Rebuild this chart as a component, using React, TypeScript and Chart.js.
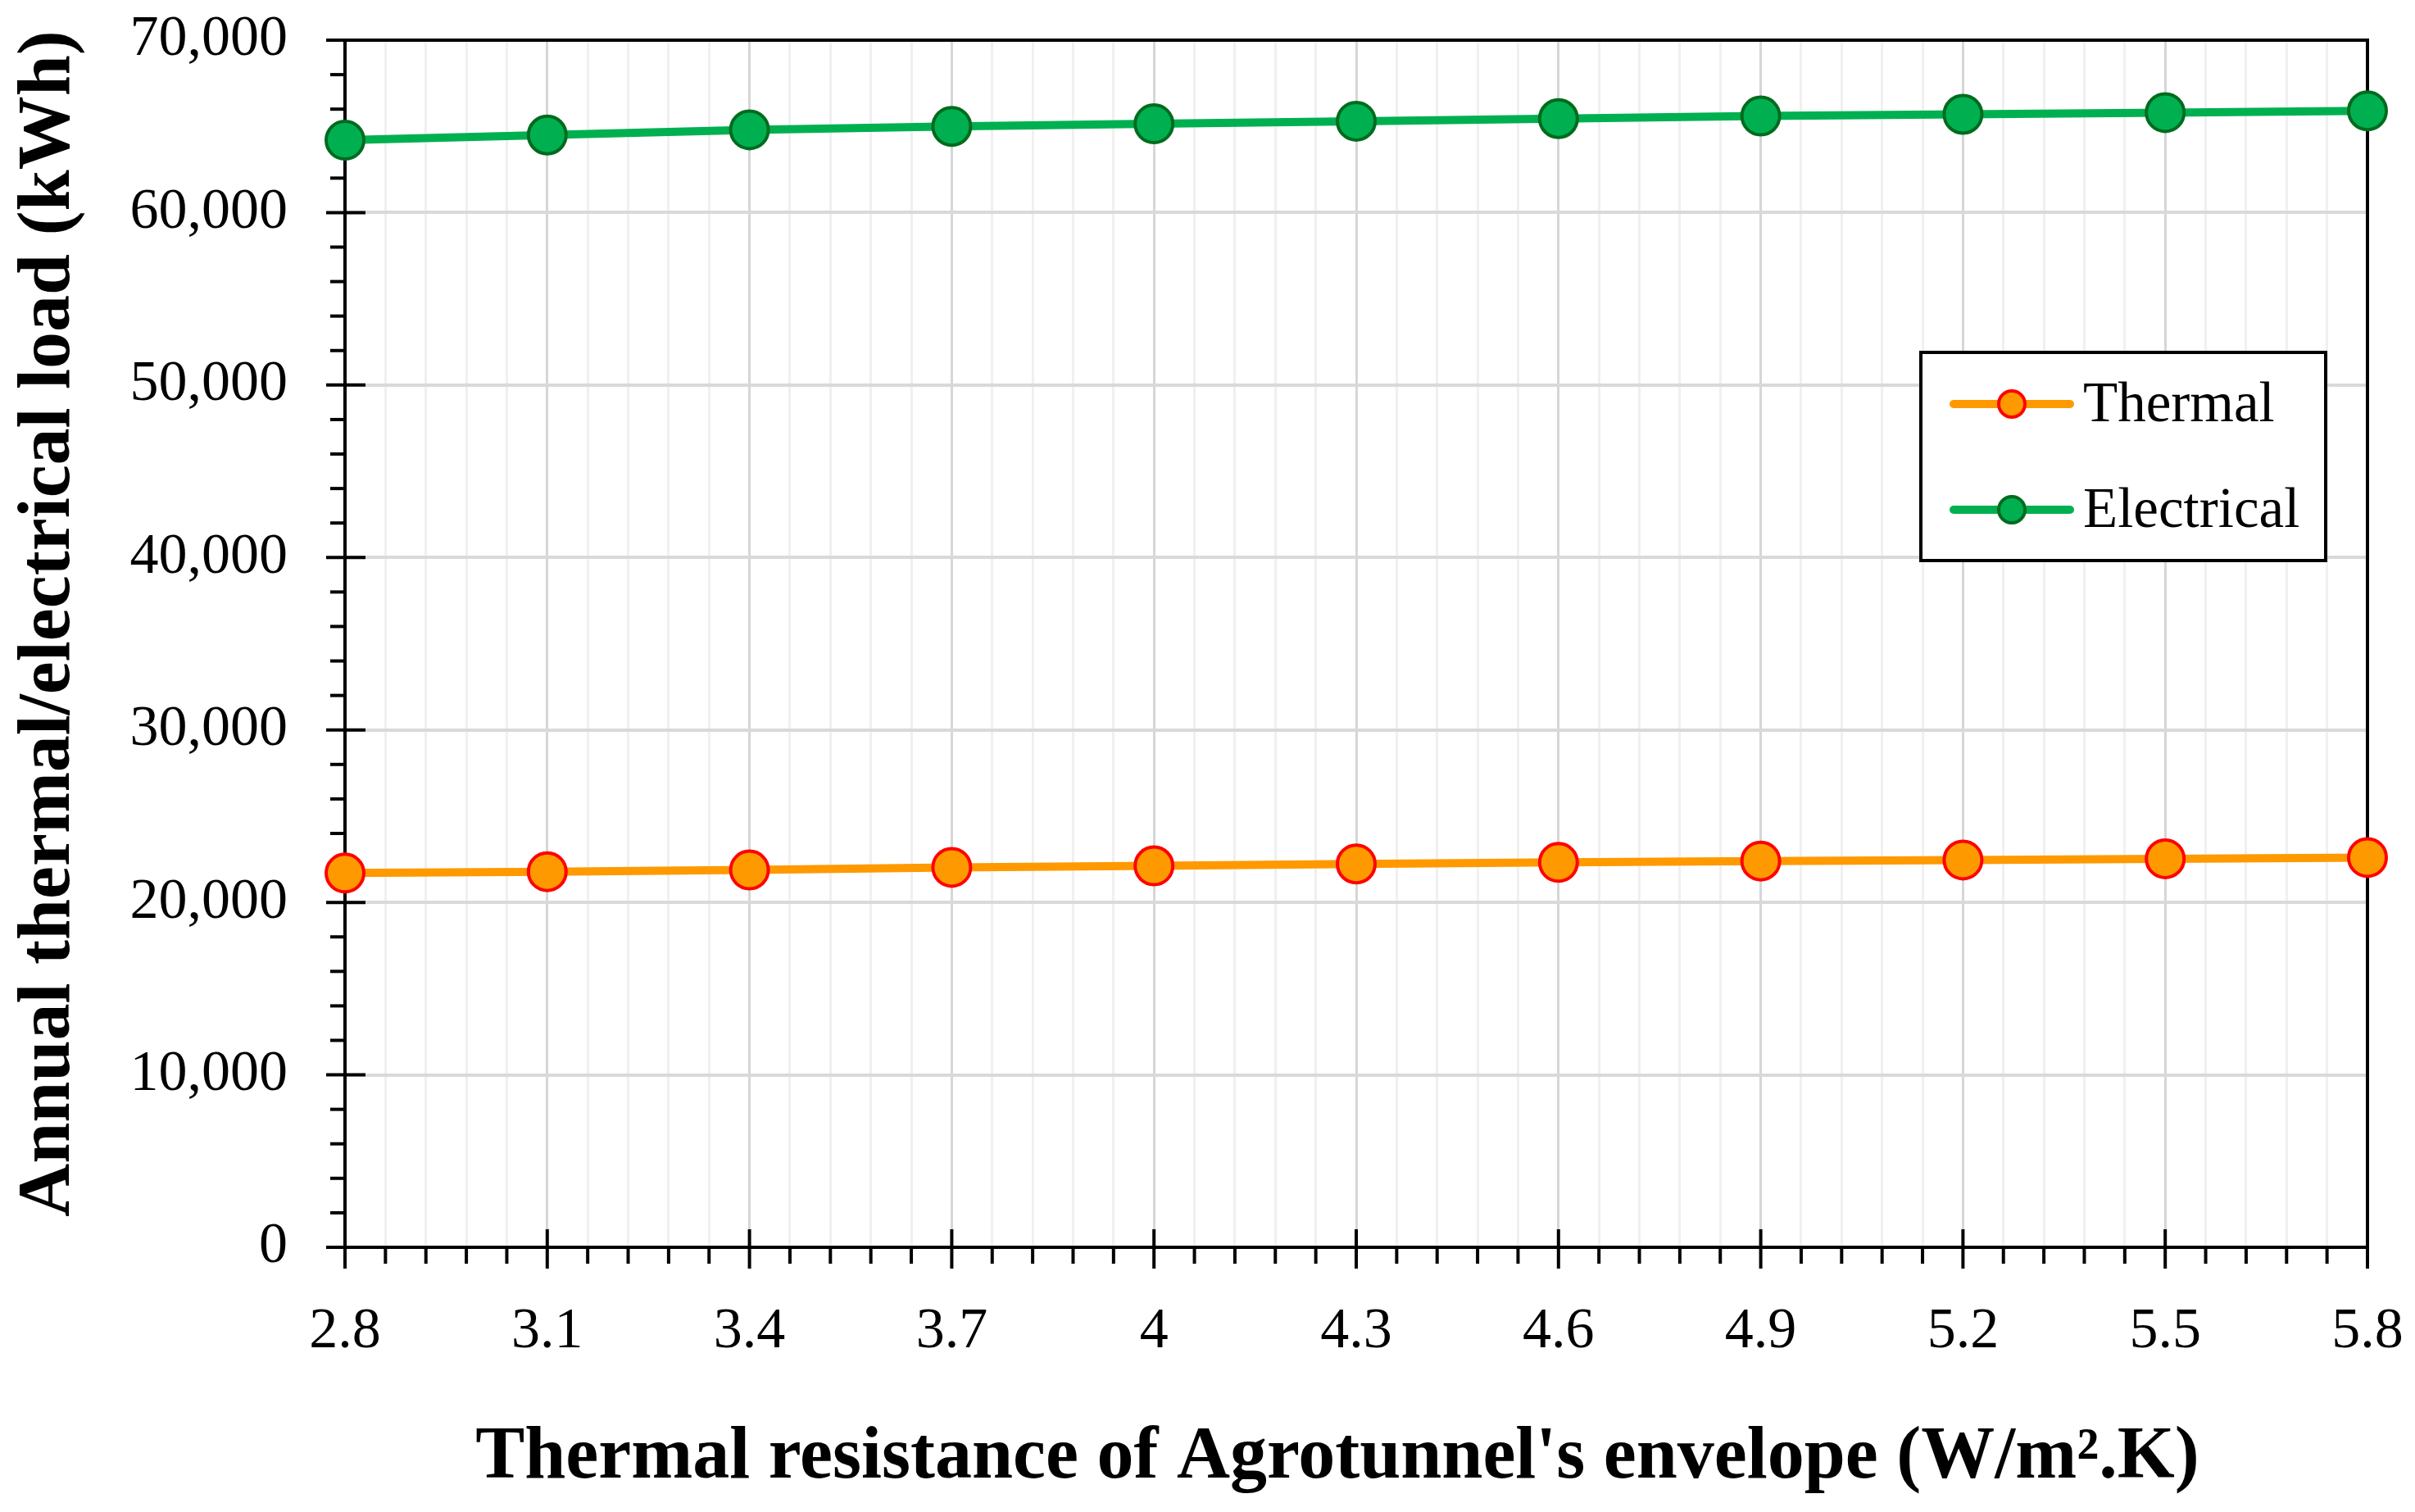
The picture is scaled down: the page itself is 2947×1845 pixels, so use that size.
import React, { useEffect, useRef } from 'react';
import { Chart, registerables } from 'chart.js';

Chart.register(...registerables);

// ---- Data ----
const resistance = [2.8, 3.1, 3.4, 3.7, 4.0, 4.3, 4.6, 4.9, 5.2, 5.5, 5.8];
const thermalLoad = [21700, 21780, 21880, 22030, 22120, 22230, 22320, 22400, 22460, 22530, 22600];
const electricalLoad = [64200, 64500, 64800, 65000, 65150, 65300, 65450, 65600, 65700, 65800, 65900];
const seriesLabels = ['Thermal', 'Electrical'];
const xTitle = "Thermal resistance of Agrotunnel's envelope (W/m\u00B2.K)";
const yTitle = 'Annual thermal/electrical load (kWh)';

const xMin = 2.8;
const xMax = 5.8;
const xMinorPerMajor = 5;
const xMinorCount = 50; // 0.06 steps
const yMin = 0;
const yMax = 70000;
const yMajorStep = 10000;
const yMinorStep = 2000;

const FONT = "'Liberation Serif', 'Times New Roman', serif";

const xTickValues: number[] = [];
for (let i = 0; i <= xMinorCount; i++) {
  xTickValues.push(Math.round((xMin + (i * (xMax - xMin)) / xMinorCount) * 1000) / 1000);
}
const yTickValues: number[] = [];
for (let v = yMin; v <= yMax; v += yMinorStep) yTickValues.push(v);

const fmtThousands = (v: number) => String(Math.round(v)).replace(/\B(?=(\d{3})+(?!\d))/g, ',');
const fmtX = (v: number) => String(Math.round(v * 10) / 10);

const framePlugin = {
  id: 'frameTicks',
  beforeDatasetsDraw(chart: any) {
    const { ctx, chartArea: a, scales } = chart;
    const x = scales.x;
    const y = scales.y;
    ctx.save();
    ctx.strokeStyle = '#000';
    ctx.lineWidth = 4;
    ctx.lineCap = 'butt';
    ctx.strokeRect(a.left, a.top, a.right - a.left, a.bottom - a.top);
    x.ticks.forEach((t: any, i: number) => {
      const px = x.getPixelForValue(t.value);
      const major = i % xMinorPerMajor === 0;
      ctx.beginPath();
      ctx.moveTo(px, major ? a.bottom - 22 : a.bottom);
      ctx.lineTo(px, a.bottom + (major ? 26 : 20));
      ctx.stroke();
    });
    y.ticks.forEach((t: any) => {
      const py = y.getPixelForValue(t.value);
      const major = t.value % yMajorStep === 0;
      ctx.beginPath();
      ctx.moveTo(a.left - (major ? 23 : 18), py);
      ctx.lineTo(major ? a.left + 25 : a.left, py);
      ctx.stroke();
    });
    ctx.restore();
  },
  afterDraw(chart: any) {
    const { ctx } = chart;
    ctx.save();
    // Axis titles
    ctx.fillStyle = '#000';
    ctx.font = `bold 90px ${FONT}`;
    ctx.textAlign = 'center';
    ctx.textBaseline = 'alphabetic';
    ctx.fillText(xTitle, 1632, 1803);

    ctx.save();
    ctx.translate(84, 761);
    ctx.rotate(-Math.PI / 2);
    ctx.font = `bold 90px ${FONT}`;
    ctx.fillText(yTitle, 0, 0);
    ctx.restore();

    // Legend
    const bx = 2344, by = 430, bw = 494, bh = 254;
    ctx.fillStyle = '#fff';
    ctx.fillRect(bx, by, bw, bh);
    ctx.strokeStyle = '#000';
    ctx.lineWidth = 4;
    ctx.strokeRect(bx, by, bw, bh);
    const rows = [493, 622];
    chart.data.datasets.forEach((ds: any, i: number) => {
      const ly = rows[i];
      ctx.beginPath();
      ctx.strokeStyle = ds.borderColor;
      ctx.lineWidth = 10;
      ctx.lineCap = 'round';
      ctx.moveTo(2384, ly);
      ctx.lineTo(2526, ly);
      ctx.stroke();
      ctx.beginPath();
      ctx.arc(2455, ly, 16, 0, Math.PI * 2);
      ctx.fillStyle = ds.pointBackgroundColor;
      ctx.fill();
      ctx.lineWidth = 4;
      ctx.strokeStyle = ds.pointBorderColor;
      ctx.stroke();
      ctx.fillStyle = '#000';
      ctx.font = `69px ${FONT}`;
      ctx.textAlign = 'left';
      ctx.textBaseline = 'alphabetic';
      ctx.fillText(ds.label, 2542, ly + 21);
    });
    ctx.restore();
  },
};

export default function App() {
  const canvasRef = useRef<HTMLCanvasElement | null>(null);

  useEffect(() => {
    const canvas = canvasRef.current;
    if (!canvas) return;
    const chart = new Chart(canvas, {
      type: 'line',
      data: {
        datasets: [
          {
            label: seriesLabels[0],
            data: resistance.map((x, i) => ({ x, y: thermalLoad[i] })),
            borderColor: '#ff9900',
            backgroundColor: '#ff9900',
            borderWidth: 10,
            pointRadius: 23,
            pointHoverRadius: 23,
            pointBackgroundColor: '#ff9900',
            pointBorderColor: '#ff0000',
            pointBorderWidth: 4,
            tension: 0,
            clip: false,
          } as any,
          {
            label: seriesLabels[1],
            data: resistance.map((x, i) => ({ x, y: electricalLoad[i] })),
            borderColor: '#00b050',
            backgroundColor: '#00b050',
            borderWidth: 10,
            pointRadius: 23,
            pointHoverRadius: 23,
            pointBackgroundColor: '#00b050',
            pointBorderColor: '#006b1e',
            pointBorderWidth: 4,
            tension: 0,
            clip: false,
          } as any,
        ],
      },
      options: {
        responsive: false,
        animation: false,
        devicePixelRatio: 1,
        layout: { padding: { left: 0, right: 58, top: 49, bottom: 0 } },
        plugins: { legend: { display: false }, tooltip: { enabled: false } },
        scales: {
          x: {
            type: 'linear',
            min: xMin,
            max: xMax,
            afterBuildTicks: (s: any) => {
              s.ticks = xTickValues.map((v) => ({ value: v }));
            },
            afterFit: (s: any) => {
              s.height = 323;
            },
            ticks: {
              autoSkip: false,
              maxRotation: 0,
              minRotation: 0,
              padding: 0,
              color: '#000',
              font: { size: 70, family: FONT },
              callback: (v: any, i: number) => (i % xMinorPerMajor === 0 ? fmtX(Number(v)) : ''),
            },
            grid: {
              drawTicks: true,
              tickLength: 62,
              tickColor: 'rgba(0,0,0,0)',
              lineWidth: 3,
              color: (c: any) => (c.index % xMinorPerMajor === 0 ? '#d6d6d6' : '#f0f0f0'),
            },
            border: { display: false },
          },
          y: {
            type: 'linear',
            min: yMin,
            max: yMax,
            afterBuildTicks: (s: any) => {
              s.ticks = yTickValues.map((v) => ({ value: v }));
            },
            afterFit: (s: any) => {
              s.width = 421;
            },
            ticks: {
              autoSkip: false,
              padding: 0,
              color: '#000',
              font: { size: 70, family: FONT },
              callback: (v: any) => (Number(v) % yMajorStep === 0 ? fmtThousands(Number(v)) : ''),
            },
            grid: {
              drawTicks: true,
              tickLength: 70,
              tickColor: 'rgba(0,0,0,0)',
              lineWidth: 4,
              color: (c: any) =>
                c.tick && c.tick.value % yMajorStep === 0 ? '#d9d9d9' : 'rgba(0,0,0,0)',
            },
            border: { display: false },
          },
        },
      } as any,
      plugins: [framePlugin as any],
    });
    return () => chart.destroy();
  }, []);

  return (
    <div style={{ position: 'absolute', left: 0, top: 0, width: 2947, height: 1845, background: '#fff' }}>
      <canvas ref={canvasRef} width={2947} height={1845} style={{ display: 'block' }} />
    </div>
  );
}
